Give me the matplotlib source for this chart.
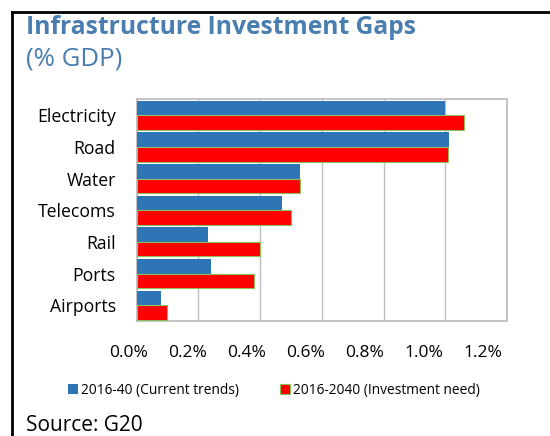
import matplotlib
matplotlib.use("Agg")
import matplotlib.pyplot as plt
import matplotlib.transforms as mtransforms
import numpy as np
from matplotlib.patches import Rectangle
from matplotlib.lines import Line2D

categories = ["Electricity", "Road", "Water", "Telecoms", "Rail", "Ports", "Airports"]
current_trends = [1.00, 1.012, 0.53, 0.47, 0.23, 0.24, 0.08]
investment_need = [1.06, 1.01, 0.53, 0.50, 0.40, 0.38, 0.10]
xticks = [0.0, 0.2, 0.4, 0.6, 0.8, 1.0, 1.2]
xtick_labels = ["0.0%", "0.2%", "0.4%", "0.6%", "0.8%", "1.0%", "1.2%"]
series_names = ["2016-40 (Current trends)", "2016-2040 (Investment need)"]

plt.rcParams['font.family'] = ['Open Sans', 'DejaVu Sans']

W, H = 550, 436
fig = plt.figure(figsize=(5.5, 4.36), dpi=100)

# outer black frame (left and top)
fig.add_artist(Line2D([12/W, 12/W], [0, 1 - 12/H], transform=fig.transFigure, color='black', lw=2))
fig.add_artist(Line2D([12/W, 1], [1 - 12/H, 1 - 12/H], transform=fig.transFigure, color='black', lw=2))

ax = fig.add_axes([136.5/W, 1 - 321/H, (507 - 136.5)/W, (321 - 99.5)/H])

y = np.arange(len(categories))
bh = 0.46
blue = '#2E75B6'
red = '#FF0000'
ax.barh(y - bh/2, current_trends, height=bh, color=blue, edgecolor='none', zorder=3)
ax.barh(y + bh/2, investment_need, height=bh, color=red, edgecolor='#8DBF5A', linewidth=0.8, zorder=3)

ax.set_ylim(len(categories) - 0.5, -0.5)
ax.set_xlim(0, 1.2)
ax.set_xticks(xticks)
ax.set_xticklabels(xtick_labels)
ax.set_yticks(y)
ax.set_yticklabels(categories)
ax.tick_params(axis='x', length=0, pad=17, labelsize=12.5, colors='black')
ax.tick_params(axis='y', length=0, pad=15, labelsize=12.7, colors='black')
ax.grid(axis='x', color='#BFBFBF', lw=1, zorder=0)
for s in ax.spines.values():
    s.set_color('#BFBFBF')
    s.set_linewidth(1.3)

# label placement mimics the reference's slightly compressed label spacing
for i, lab in enumerate(ax.get_xticklabels()):
    dx = -(7.5 + 2.8 * i) / 100.0
    lab.set_transform(lab.get_transform() + mtransforms.ScaledTranslation(dx, 0, fig.dpi_scale_trans))

title_color = '#4A7EB0'
fig.text(26/W, 1 - 34/H, "Infrastructure Investment Gaps", fontsize=17.7, fontweight='bold',
         color=title_color, ha='left', va='baseline')
fig.text(26/W, 1 - 66/H, "(% GDP)", fontsize=18.5, color=title_color, ha='left', va='baseline')

handles = [Rectangle((0, 0), 1, 1, facecolor=blue, edgecolor='none'),
           Rectangle((0, 0), 1, 1, facecolor=red, edgecolor='#8DBF5A', linewidth=0.8)]
fig.legend(handles, series_names, loc='center', bbox_to_anchor=(274/W, 1 - 390/H), ncol=2,
           frameon=False, fontsize=9.9, handlelength=0.7, handleheight=0.7, handletextpad=0.25,
           columnspacing=3.0)

fig.text(26/W, 1 - 431/H, "Source: G20", fontsize=15, color='black', ha='left', va='baseline')

fig.savefig("out.png", dpi=100)
